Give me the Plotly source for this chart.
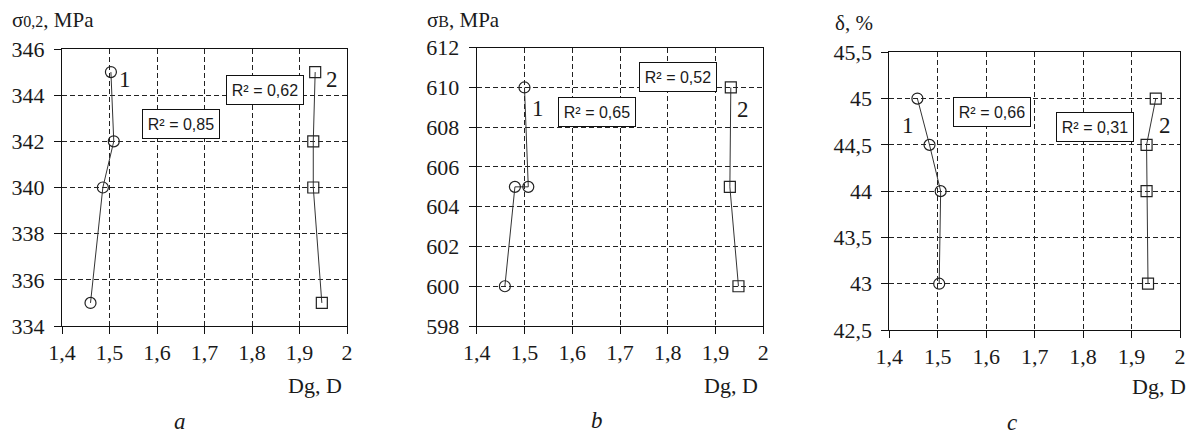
import plotly.graph_objects as go

# ---- data ----
a_circ_x = [1.460, 1.486, 1.509, 1.503]
a_circ_y = [335, 340, 342, 345]
a_sq_x = [1.947, 1.929, 1.929, 1.933]
a_sq_y = [335, 340, 342, 345]

b_circ_x = [1.459, 1.480, 1.508, 1.500]
b_circ_y = [600, 605, 605, 610]
b_sq_x = [1.948, 1.930, 1.932]
b_sq_y = [600, 605, 610]

c_circ_x = [1.503, 1.506, 1.483, 1.458]
c_circ_y = [43.0, 44.0, 44.5, 45.0]
c_sq_x = [1.934, 1.931, 1.931, 1.950]
c_sq_y = [43.0, 44.0, 44.5, 45.0]

x_ticks = [1.4, 1.5, 1.6, 1.7, 1.8, 1.9, 2.0]
x_tick_text = ["1,4", "1,5", "1,6", "1,7", "1,8", "1,9", "2"]
a_y_ticks = [334, 336, 338, 340, 342, 344, 346]
b_y_ticks = [598, 600, 602, 604, 606, 608, 610, 612]
c_y_ticks = [42.5, 43, 43.5, 44, 44.5, 45, 45.5]
c_y_tick_text = ["42,5", "43", "43,5", "44", "44,5", "45", "45,5"]

r2_labels = {
    "a": [("R² = 0,85", 1.650, 342.75), ("R² = 0,62", 1.828, 344.22)],
    "b": [("R² = 0,65", 1.652, 608.78), ("R² = 0,52", 1.821, 610.53)],
    "c": [("R² = 0,66", 1.613, 44.86), ("R² = 0,31", 1.824, 44.69)],
}
curve_labels = {
    "a": [("1", 1.533, 344.66), ("2", 1.968, 344.7)],
    "b": [("1", 1.529, 608.95), ("2", 1.958, 608.87)],
    "c": [("1", 1.439, 44.71), ("2", 1.970, 44.71)],
}

# The page body adds an 8px offset; lay out in target-pixel space and shift.
OFF = 8
W, H = 1197 - OFF, 434 - OFF
SERIF = "Liberation Serif, Times New Roman, serif"
SANS = "Liberation Sans, Arial, sans-serif"
TXT = "#1a1a1a"

def fx(px):
    return (px - OFF) / W

def fy(py):
    return 1 - (py - OFF) / H

panels = [
    ("a", "", a_circ_x, a_circ_y, a_sq_x, a_sq_y, a_y_ticks, [str(v) for v in a_y_ticks], [334, 346], (62, 347), (49, 326)),
    ("b", "2", b_circ_x, b_circ_y, b_sq_x, b_sq_y, b_y_ticks, [str(v) for v in b_y_ticks], [598, 612], (476.7, 763.3), (47.7, 326)),
    ("c", "3", c_circ_x, c_circ_y, c_sq_x, c_sq_y, c_y_ticks, c_y_tick_text, [42.5, 45.5], (889.3, 1180), (52.3, 330)),
]

fig = go.Figure()
layout = {}
annotations = []

for name, sfx, cx, cy, sx, sy, yt, ytt, yr, dx, dy in panels:
    xa = "x" + sfx
    ya = "y" + sfx
    fig.add_trace(go.Scatter(
        x=cx, y=cy, xaxis=xa, yaxis=ya, mode="lines+markers",
        line=dict(color="#333", width=1),
        marker=dict(symbol="circle-open", size=11, color="#222", line=dict(width=1.2)),
        showlegend=False, hoverinfo="skip"))
    fig.add_trace(go.Scatter(
        x=sx, y=sy, xaxis=xa, yaxis=ya, mode="lines+markers",
        line=dict(color="#333", width=1),
        marker=dict(symbol="square-open", size=11, color="#222", line=dict(width=1.2)),
        showlegend=False, hoverinfo="skip"))
    common = dict(
        showline=True, linecolor="#111", linewidth=1, mirror=True,
        showgrid=True, gridcolor="#222", gridwidth=1, griddash="5px,3px",
        ticks="outside", ticklen=7, tickcolor="#111", tickwidth=1,
        tickfont=dict(family=SERIF, size=22, color=TXT),
        zeroline=False, fixedrange=True, automargin=False,
    )
    layout["xaxis" + sfx] = dict(
        common, domain=[fx(dx[0]), fx(dx[1])], range=[1.4, 2.0],
        tickvals=x_ticks, ticktext=x_tick_text, anchor=ya,
    )
    layout["yaxis" + sfx] = dict(
        common, domain=[fy(dy[1]), fy(dy[0])], range=yr,
        tickvals=yt, ticktext=ytt, anchor=xa, ticklabelstandoff=5,
    )
    for t, x, y in r2_labels[name]:
        annotations.append(dict(
            text=t, x=x, y=y, xref=xa, yref=ya, showarrow=False,
            font=dict(family=SANS, size=16, color=TXT),
            width=66, height=18,
            bgcolor="white", bordercolor="#111", borderwidth=1, borderpad=5,
        ))
    for t, x, y in curve_labels[name]:
        annotations.append(dict(
            text=t, x=x, y=y, xref=xa, yref=ya, showarrow=False,
            font=dict(family=SERIF, size=23, color=TXT),
        ))

titles = [
    ("σ<span style='font-size:16px'>0,2</span>, MPa", 10, 20),
    ("σ<span style='font-size:16px'>B</span>, MPa", 425, 20),
    ("δ, %", 833, 23),
]
for t, px, py in titles:
    annotations.append(dict(text=t, x=fx(px), y=fy(py), xref="paper", yref="paper",
                            xanchor="left", yanchor="middle", showarrow=False,
                            font=dict(family=SERIF, size=21, color=TXT)))

xlabels = [(344, 385), (760, 385), (1188, 386)]
for px, py in xlabels:
    annotations.append(dict(text="Dg, D", x=fx(px), y=fy(py), xref="paper", yref="paper",
                            xanchor="right", yanchor="middle", showarrow=False,
                            font=dict(family=SERIF, size=22, color=TXT)))

letters = [("a", 180, 421), ("b", 597, 420), ("c", 1012, 422)]
for t, px, py in letters:
    annotations.append(dict(text="<i>" + t + "</i>", x=fx(px), y=fy(py), xref="paper", yref="paper",
                            xanchor="center", yanchor="middle", showarrow=False,
                            font=dict(family=SERIF, size=23, color=TXT)))

fig.update_layout(
    width=W, height=H,
    margin=dict(l=0, r=0, t=0, b=0, pad=0, autoexpand=False),
    paper_bgcolor="white", plot_bgcolor="white",
    separators=", ",
    annotations=annotations,
    **layout,
)

fig.write_html("out.html")
